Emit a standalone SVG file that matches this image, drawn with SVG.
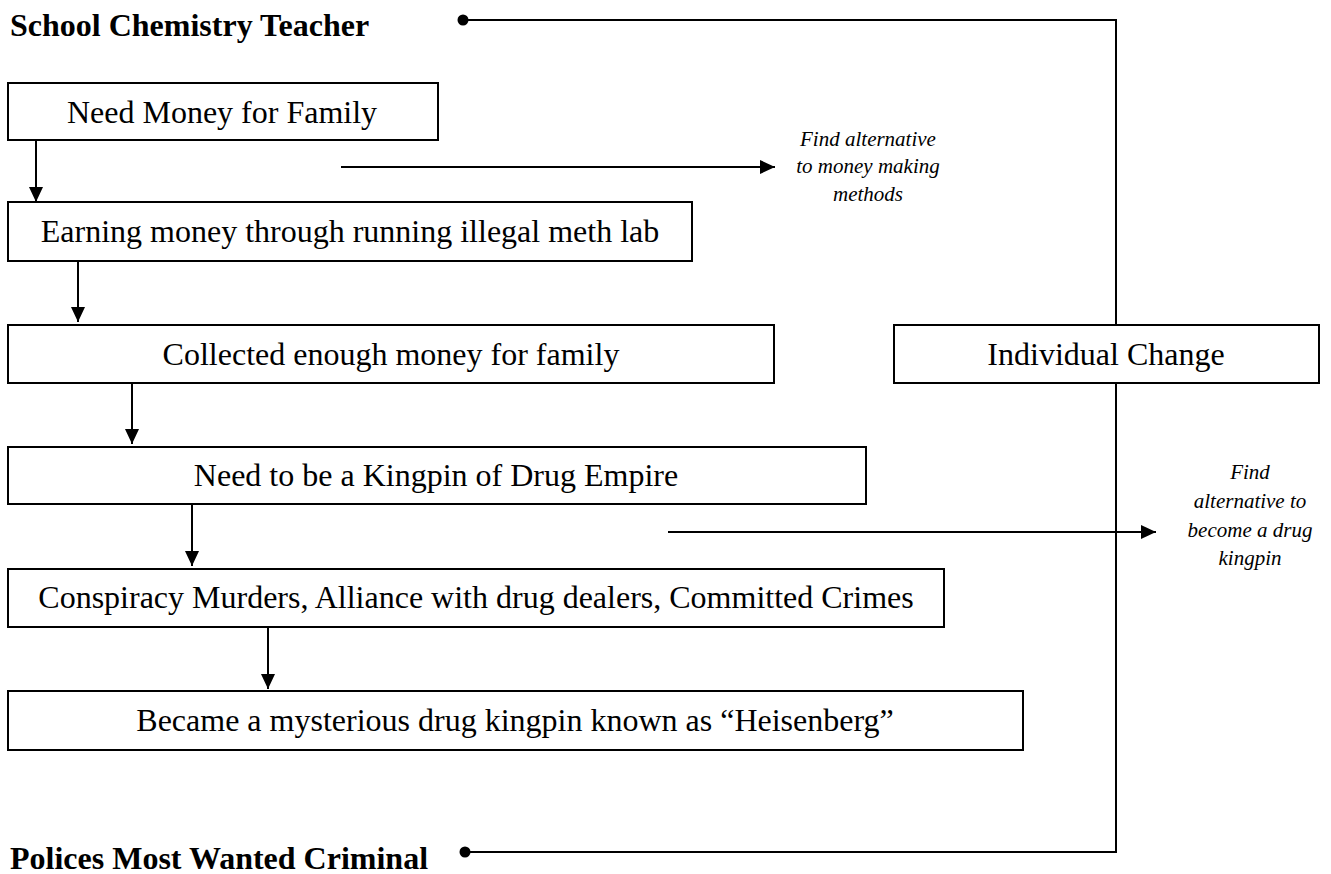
<svg xmlns="http://www.w3.org/2000/svg" width="1331" height="874" viewBox="0 0 1331 874">
<style>
.box{fill:#fff;stroke:#000;stroke-width:2}
.t{font-family:"Liberation Serif","Times New Roman",serif;font-size:32px;fill:#000;text-anchor:middle}
.h{font-family:"Liberation Serif","Times New Roman",serif;font-size:32px;font-weight:bold;fill:#000}
.i{font-family:"Liberation Serif","Times New Roman",serif;font-size:21px;font-style:italic;fill:#000;text-anchor:middle}
.ln{fill:none;stroke:#000;stroke-width:2}
</style>
<defs>
<marker id="ah" markerWidth="15" markerHeight="15" refX="15" refY="7.5" orient="auto" markerUnits="userSpaceOnUse" viewBox="0 0 15 15">
<path d="M0,0.5 L15,7.5 L0,14.5 z" fill="#000"/>
</marker>
</defs>
<rect width="1331" height="874" fill="#fff"/>
<g id="connectors">
<circle cx="463" cy="20" r="5.5" fill="#000"/>
<polyline class="ln" points="463,20 1116,20 1116,325"/>
<circle cx="465" cy="852" r="5.5" fill="#000"/>
<polyline class="ln" points="465,852 1116,852 1116,383"/>
<line class="ln" x1="36" y1="140" x2="36" y2="202" marker-end="url(#ah)"/>
<line class="ln" x1="78" y1="261" x2="78" y2="322" marker-end="url(#ah)"/>
<line class="ln" x1="132" y1="383" x2="132" y2="444" marker-end="url(#ah)"/>
<line class="ln" x1="192" y1="504" x2="192" y2="566" marker-end="url(#ah)"/>
<line class="ln" x1="268" y1="627" x2="268" y2="689" marker-end="url(#ah)"/>
<line class="ln" x1="341" y1="167" x2="775" y2="167" marker-end="url(#ah)"/>
<line class="ln" x1="668" y1="532" x2="1156" y2="532" marker-end="url(#ah)"/>
</g>
<g id="title-top"><text class="h" x="10" y="36">School Chemistry Teacher</text></g>
<g id="title-bottom"><text class="h" x="10" y="869">Polices Most Wanted Criminal</text></g>
<g id="n1"><rect class="box" x="8" y="83" width="430" height="57"/><text class="t" x="222" y="123">Need Money for Family</text></g>
<g id="n2"><rect class="box" x="8" y="202" width="684" height="59"/><text class="t" x="350" y="242">Earning money through running illegal meth lab</text></g>
<g id="n3"><rect class="box" x="8" y="325" width="766" height="58"/><text class="t" x="391" y="365">Collected enough money for family</text></g>
<g id="n4"><rect class="box" x="8" y="447" width="858" height="57"/><text class="t" x="436" y="486">Need to be a Kingpin of Drug Empire</text></g>
<g id="n5"><rect class="box" x="8" y="569" width="936" height="58"/><text class="t" x="476" y="608">Conspiracy Murders, Alliance with drug dealers, Committed Crimes</text></g>
<g id="n6"><rect class="box" x="8" y="691" width="1015" height="59"/><text class="t" x="515" y="731">Became a mysterious drug kingpin known as “Heisenberg”</text></g>
<g id="n7"><rect class="box" x="894" y="325" width="425" height="58"/><text class="t" x="1106" y="365">Individual Change</text></g>
<g id="l1"><text class="i" x="868" y="146">Find alternative</text><text class="i" x="868" y="173">to money making</text><text class="i" x="868" y="201">methods</text></g>
<g id="l2"><text class="i" x="1250" y="479">Find</text><text class="i" x="1250" y="508">alternative to</text><text class="i" x="1250" y="537">become a drug</text><text class="i" x="1250" y="565">kingpin</text></g>
</svg>
